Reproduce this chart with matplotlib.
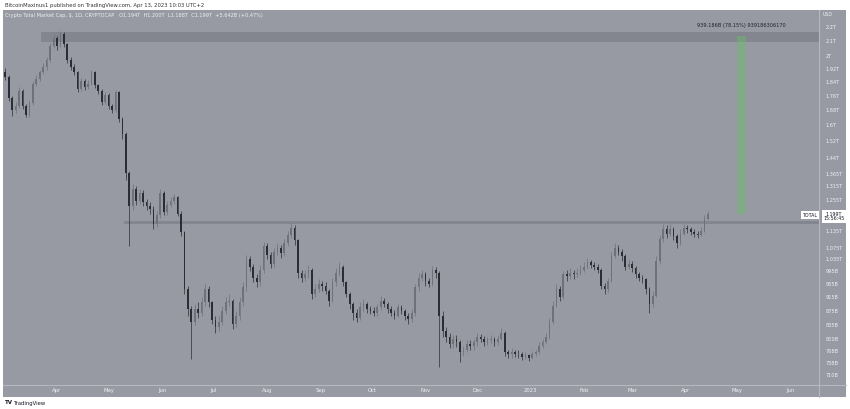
import numpy as np
import pandas as pd
import matplotlib
matplotlib.use('Agg')
import matplotlib.pyplot as plt
import matplotlib.dates as mdates
from matplotlib.patches import Rectangle

# 2-day candles of TOTAL crypto market cap, billions USD, from 2022-03-01
first_open = 1900
closes = [1870, 1745, 1680, 1700, 1790, 1700, 1655, 1720, 1830, 1860,
          1900, 1930, 1975, 2070, 2125, 2070, 2150, 2080, 1975, 1935,
          1900, 1800, 1845, 1810, 1830, 1900, 1820, 1790, 1725, 1765,
          1700, 1680, 1780, 1630, 1555, 1370, 1230, 1300, 1250, 1285,
          1245, 1230, 1220, 1160, 1195, 1285, 1205, 1235, 1250, 1265,
          1200, 1130, 940, 880, 845, 880, 870, 900, 940, 900,
          850, 830, 845, 875, 900, 905, 840, 860, 900, 945,
          1035, 1010, 975, 960, 1000, 1080, 1050, 1020, 1060, 1075,
          1055, 1090, 1120, 1145, 1100, 990, 975, 985, 1000, 925,
          940, 955, 950, 935, 905, 960, 990, 1010, 960, 925,
          895, 870, 855, 885, 895, 880, 875, 870, 885, 905,
          895, 880, 870, 862, 885, 875, 860, 852, 868, 945,
          975, 985, 965, 955, 1000, 990, 860, 820, 805, 785,
          800, 790, 765, 770, 785, 780, 790, 805, 800, 790,
          795, 800, 790, 800, 815, 765, 760, 765, 762, 760,
          754, 758, 752, 760, 765, 780, 790, 805, 845, 890,
          940, 915, 985, 980, 990, 985, 990, 1000, 1010, 1025,
          1015, 1010, 1000, 950, 940, 965, 1045, 1075, 1060, 1045,
          1010, 1020, 1005, 985, 975, 970, 940, 895, 920, 1030,
          1105, 1140, 1125, 1140, 1115, 1090, 1125, 1145, 1140, 1130,
          1125, 1120, 1135, 1180, 1199]
highs = [1925, 1880, 1760, 1725, 1810, 1800, 1715, 1735, 1845, 1880,
         1915, 1955, 1995, 2090, 2150, 2140, 2175, 2165, 2090, 1995,
         1950, 1910, 1865, 1860, 1850, 1915, 1910, 1830, 1800, 1780,
         1775, 1715, 1795, 1790, 1640, 1565, 1380, 1320, 1315, 1300,
         1295, 1260, 1245, 1230, 1210, 1300, 1290, 1250, 1265, 1280,
         1270, 1210, 1135, 950, 890, 895, 900, 915, 955, 950,
         905, 860, 860, 890, 915, 925, 910, 875, 915, 960,
         1050, 1045, 1020, 985, 1015, 1095, 1090, 1060, 1075, 1090,
         1085, 1105, 1135, 1165, 1155, 1105, 1000, 1000, 1015, 1005,
         955, 970, 965, 960, 940, 975, 1005, 1025, 1015, 965,
         930, 900, 880, 900, 910, 900, 890, 885, 895, 920,
         912, 900, 888, 878, 895, 892, 880, 868, 880, 955,
         990, 1000, 992, 975, 1012, 1010, 995, 875, 830, 815,
         810, 808, 795, 780, 795, 795, 800, 815, 812, 806,
         805, 808, 805, 810, 828, 820, 772, 775, 772, 770,
         765, 766, 762, 768, 772, 790, 800, 815, 855, 905,
         955, 950, 995, 1000, 1005, 1000, 1005, 1015, 1025, 1040,
         1032, 1025, 1018, 1005, 958, 975, 1060, 1090, 1085, 1070,
         1052, 1035, 1028, 1012, 992, 982, 975, 945, 935, 1045,
         1120, 1160, 1155, 1160, 1148, 1122, 1140, 1160, 1158, 1150,
         1140, 1135, 1148, 1195, 1210]
lows = [1850, 1730, 1650, 1665, 1690, 1685, 1640, 1645, 1710, 1815,
        1845, 1890, 1915, 1965, 2055, 2040, 2060, 2065, 1960, 1915,
        1880, 1780, 1790, 1795, 1800, 1820, 1805, 1770, 1710, 1715,
        1685, 1665, 1670, 1615, 1530, 1340, 1082, 1215, 1235, 1240,
        1230, 1215, 1200, 1140, 1150, 1185, 1195, 1195, 1225, 1240,
        1190, 1115, 925, 860, 748, 835, 855, 860, 890, 885,
        840, 815, 820, 835, 865, 890, 825, 830, 850, 890,
        935, 995, 960, 945, 950, 990, 1035, 1005, 1010, 1050,
        1040, 1045, 1080, 1110, 1085, 975, 960, 965, 975, 910,
        915, 930, 935, 925, 890, 900, 950, 980, 950, 915,
        880, 850, 845, 850, 875, 870, 865, 860, 862, 878,
        885, 870, 860, 852, 858, 865, 850, 840, 845, 862,
        935, 965, 950, 945, 950, 975, 730, 805, 790, 775,
        775, 778, 742, 755, 765, 770, 772, 782, 790, 782,
        784, 788, 782, 784, 795, 755, 750, 752, 754, 750,
        745, 748, 744, 748, 755, 760, 775, 785, 800, 840,
        885, 905, 910, 965, 972, 972, 978, 982, 992, 1002,
        1005, 998, 990, 940, 925, 932, 960, 1038, 1048, 1030,
        998, 1002, 992, 975, 965, 958, 925, 870, 885, 915,
        1020, 1095, 1110, 1115, 1100, 1075, 1085, 1118, 1128, 1118,
        1112, 1110, 1115, 1130, 1175]

price_ticks = [2200, 2100, 2000, 1920, 1840, 1760, 1680, 1600, 1520, 1440,
               1365, 1315, 1255, 1135, 1075, 1035, 995, 955, 915, 875,
               835, 800, 768, 738, 710]
price_labels = ['2.2T', '2.1T', '2T', '1.92T', '1.84T', '1.76T', '1.68T', '1.6T',
                '1.52T', '1.44T', '1.365T', '1.315T', '1.255T', '1.135T', '1.075T',
                '1.035T', '995B', '955B', '915B', '875B', '835B', '800B', '768B',
                '738B', '710B']
month_ticks = ['2022-04-01', '2022-05-01', '2022-06-01', '2022-07-01', '2022-08-01',
               '2022-09-01', '2022-10-01', '2022-11-01', '2022-12-01', '2023-01-01',
               '2023-02-01', '2023-03-01', '2023-04-01', '2023-05-01', '2023-06-01']
month_labels = ['Apr', 'May', 'Jun', 'Jul', 'Aug', 'Sep', 'Oct', 'Nov', 'Dec',
                '2023', 'Feb', 'Mar', 'Apr', 'May', 'Jun']

# zones and measurement
top_zone = (2095, 2165)
mid_zone = (1159, 1171)
measure_lo, measure_hi = 1199, 2138

W, H = 850, 409
bg = '#979aa2'
light = '#eef0f5'
sep = '#b5b8c0'

fig = plt.figure(figsize=(W / 100, H / 100), dpi=100, facecolor='white')
fig.patches.append(Rectangle((3 / W, 1 - 397 / H), 843 / W, 387 / H,
                             transform=fig.transFigure, facecolor=bg,
                             edgecolor='none', zorder=-5))

ax = fig.add_axes([3 / W, 1 - 385 / H, 816 / W, 375 / H])
ax.set_facecolor(bg)
for s in ax.spines.values():
    s.set_visible(False)

opens = [first_open] + closes[:-1]
dates = pd.date_range('2022-03-01', periods=len(closes), freq='2D') + pd.Timedelta(days=1)
x = mdates.date2num(dates)
o = np.array(opens, float)
c = np.array(closes, float)
hi = np.array(highs, float)
lo = np.array(lows, float)
up = c >= o
up_col, dn_col = '#6e717b', '#2a2d34'
cols = np.where(up, up_col, dn_col)

ax.vlines(x, lo, hi, colors=cols, linewidth=0.5, zorder=3)
ax.bar(x, np.abs(c - o), bottom=np.minimum(o, c), width=0.95,
       color=cols, linewidth=0, zorder=4)

ax.set_yscale('log')
ax.set_ylim(688, 2325)
x0 = mdates.date2num(pd.Timestamp('2022-02-28 16:00'))
x1 = mdates.date2num(pd.Timestamp('2023-06-17 12:00'))
ax.set_xlim(x0, x1)

# zones
ax.axhspan(top_zone[0], top_zone[1], xmin=(mdates.date2num(pd.Timestamp('2022-03-23')) - x0) / (x1 - x0),
           xmax=1, color='#7f828b', alpha=0.8, lw=0, zorder=2)
ax.axhspan(mid_zone[0], mid_zone[1], xmin=(mdates.date2num(pd.Timestamp('2022-05-10')) - x0) / (x1 - x0),
           xmax=1, color='#7f828b', alpha=0.8, lw=0, zorder=2)

# price range tool
mx0 = mdates.date2num(pd.Timestamp('2023-05-01'))
ax.add_patch(Rectangle((mx0, measure_lo), 5, measure_hi - measure_lo,
                       facecolor='#66c266', alpha=0.42, edgecolor='none', zorder=5))
ax.text(mx0 + 2.5, measure_hi * 1.025, '939.186B (78.15%) 939186306170',
        ha='center', va='bottom', fontsize=3.6, color='#1e222d', zorder=6)

# axes ticks
ax.yaxis.tick_right()
ax.set_yticks(price_ticks)
ax.set_yticklabels(price_labels)
ax.yaxis.set_minor_locator(matplotlib.ticker.NullLocator())
ax.tick_params(axis='y', length=0, pad=5, labelsize=3.6, labelcolor=light)
ax.set_xticks(mdates.date2num(pd.to_datetime(month_ticks)))
ax.set_xticklabels(month_labels)
ax.tick_params(axis='x', length=0, pad=2.5, labelsize=3.8, labelcolor=light)
for lab in ax.get_yticklabels():
    lab.set_ha('left')

# separators
fig.add_artist(plt.Line2D([819 / W, 819 / W], [1 - 397 / H, 1 - 10 / H],
                          transform=fig.transFigure, color=sep, lw=0.8))
fig.add_artist(plt.Line2D([3 / W, 846 / W], [1 - 385 / H, 1 - 385 / H],
                          transform=fig.transFigure, color=sep, lw=0.8))

# texts
fig.text(5 / W, 1 - 5 / H, 'BitcoinMaxinus1 published on TradingView.com, Apr 13, 2023 10:03 UTC+2',
         fontsize=3.8, color='#333333', va='center')
fig.text(5 / W, 1 - 16 / H,
         'Crypto Total Market Cap, $, 1D, CRYPTOCAP   O1.194T  H1.200T  L1.188T  C1.199T  +5.642B (+0.47%)',
         fontsize=3.6, color=light, va='center')
fig.text(823 / W, 1 - 14 / H, 'USD', fontsize=3.4, color=light, va='center')
fig.text(5 / W, 1 - 403 / H, 'TV', fontsize=4, color='#131722', va='center', fontweight='bold')
fig.text(14 / W, 1 - 403 / H, 'TradingView', fontsize=3.8, color='#131722', va='center')

# current price labels
fig.text(810 / W, 1 - 215 / H, 'TOTAL', fontsize=3.4, color='#131722', va='center', ha='center',
         bbox=dict(boxstyle='square,pad=0.3', facecolor='white', edgecolor='none'))
fig.text(834 / W, 1 - 216.5 / H, '1.199T\n15:56:45', fontsize=3.4, color='#131722', va='center',
         ha='center', linespacing=1.0,
         bbox=dict(boxstyle='square,pad=0.3', facecolor='white', edgecolor='none'))

fig.savefig('out.png', dpi=100, facecolor='white')
